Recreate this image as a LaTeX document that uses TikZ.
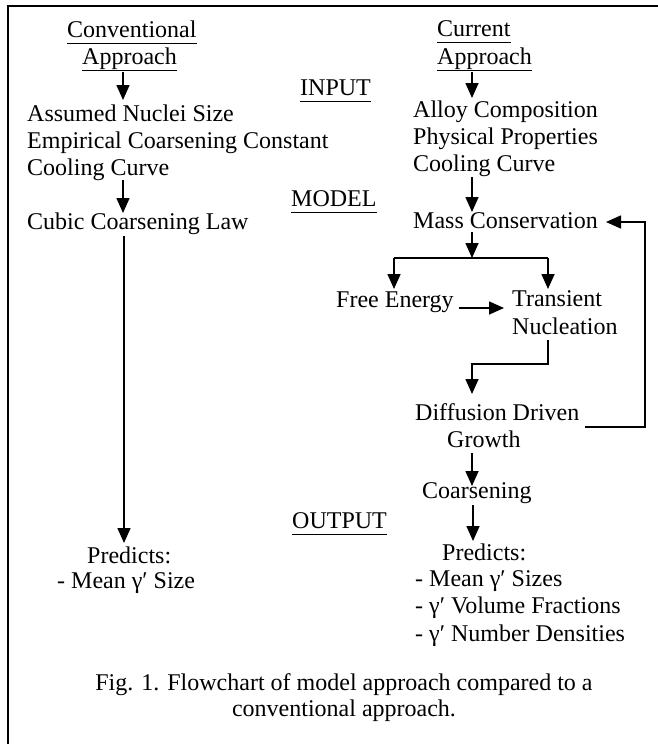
\documentclass[tikz,border=0pt]{standalone}
\usepackage{fontspec}
\setmainfont{Liberation Serif}
\usetikzlibrary{arrows.meta}
\newcommand\ulx[1]{\underline{#1\vphantom{p}}}
\begin{document}
\begin{tikzpicture}[x=1pt,y=-1pt,
  txt/.style={inner sep=0pt,anchor=base west,font=\fontsize{24}{27}\selectfont},
  ctxt/.style={inner sep=0pt,anchor=base,font=\fontsize{24}{27}\selectfont},
  arr/.style={line width=1.6pt,-{Triangle[width=13pt,length=15pt]}},
  ln/.style={line width=1.6pt},
  frame/.style={line width=2.2pt}]
\useasboundingbox (0,0) rectangle (658,744);
% frame
\coordinate (fTL) at (8,6);
\coordinate (fBL) at (8,744);
\coordinate (fTR) at (658,6);
\draw[frame] (fBL) -- (fTL) -- (fTR);

% left column
\node[txt] (conv) at (67,37) {\ulx{Conventional}};
\node[txt] (appL) at (82,64) {\ulx{Approach}};
\node[txt] (ass) at (27,121) {Assumed Nuclei Size};
\node[txt] (emp) at (27,148) {Empirical Coarsening Constant};
\node[txt] (coolL) at (27,175) {Cooling Curve};
\node[txt] (cubic) at (27,229) {Cubic Coarsening Law};
\node[txt] (predL) at (87,563) {Predicts:};
\node[txt] (meanL) at (57,588) {- Mean γ′ Size};

% middle labels
\node[txt] (inp) at (300,95) {\ulx{INPUT}};
\node[txt] (mod) at (291,206) {\ulx{MODEL}};
\node[txt] (out) at (292,528) {\ulx{OUTPUT}};

% right column
\node[txt] (curr) at (437,36) {\ulx{Current}};
\node[txt] (appR) at (437,64) {\ulx{Approach}};
\node[txt] (alloy) at (413,117) {Alloy Composition};
\node[txt] (phys) at (413,144) {Physical Properties};
\node[txt] (coolR) at (413,171) {Cooling Curve};
\node[txt] (mass) at (413,228) {Mass Conservation};
\node[txt] (free) at (336,307) {Free Energy};
\node[txt] (trans) at (512,306) {Transient};
\node[txt] (nucl) at (512,334) {Nucleation};
\node[txt] (diff) at (415,420) {Diffusion Driven};
\node[txt] (grow) at (447,447) {Growth};
\node[txt] (coars) at (422,498) {Coarsening};
\node[txt] (predR) at (442,560) {Predicts:};
\node[txt] (m1) at (415,586) {- Mean γ′ Sizes};
\node[txt] (m2) at (415,613) {- γ′ Volume Fractions};
\node[txt] (m3) at (415,641) {- γ′ Number Densities};

% caption
\node[ctxt] (cap1) at (344,690) {Fig. 1. Flowchart of model approach compared to a};
\node[ctxt] (cap2) at (344,716) {conventional approach.};

% left arrows
\coordinate (l1s) at (123,72);  \coordinate (l1e) at (123,100);
\coordinate (l2s) at (123,180); \coordinate (l2e) at (123,213);
\coordinate (l3s) at (124,236); \coordinate (l3e) at (124,543);
\draw[arr] (l1s) -- (l1e);
\draw[arr] (l2s) -- (l2e);
\draw[arr] (l3s) -- (l3e);

% right arrows
\coordinate (r1s) at (472,72);  \coordinate (r1e) at (472,98);
\coordinate (r2s) at (472,177); \coordinate (r2e) at (472,212);
\draw[arr] (r1s) -- (r1e);
\draw[arr] (r2s) -- (r2e);

% fork
\coordinate (f0) at (472,232); \coordinate (f1) at (472,258);
\coordinate (fl) at (394,258); \coordinate (fr) at (548,258);
\coordinate (fle) at (394,289); \coordinate (fre) at (548,289);
\draw[arr] (f0) -- (f1);
\draw[ln] (fl) -- (fr);
\draw[arr] (fl) -- (fle);
\draw[arr] (fr) -- (fre);

% free energy -> transient
\coordinate (fe1) at (459,308); \coordinate (fe2) at (504,308);
\draw[arr] (fe1) -- (fe2);

% nucleation -> diffusion
\coordinate (n1) at (548,340); \coordinate (n2) at (548,364);
\coordinate (n3) at (472,364); \coordinate (n4) at (472,394);
\draw[arr] (n1) -- (n2) -- (n3) -- (n4);

% feedback
\coordinate (fb1) at (585,427); \coordinate (fb2) at (645,427);
\coordinate (fb3) at (645,222); \coordinate (fb4) at (606,222);
\draw[arr] (fb1) -- (fb2) -- (fb3) -- (fb4);

% growth -> coarsening -> predicts
\coordinate (g1) at (472,453); \coordinate (g2) at (472,486);
\coordinate (c1) at (473,505); \coordinate (c2) at (473,541);
\draw[arr] (g1) -- (g2);
\draw[arr] (c1) -- (c2);
\end{tikzpicture}
\end{document}
